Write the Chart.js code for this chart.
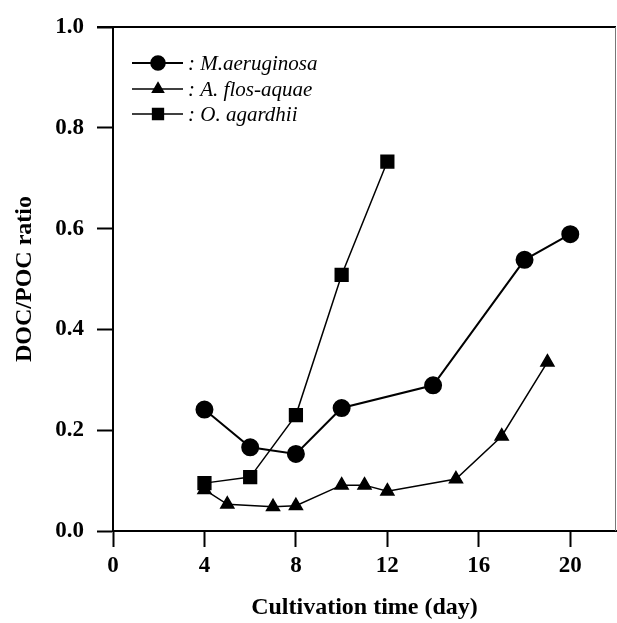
<!DOCTYPE html>
<html>
<head>
<meta charset="utf-8">
<script src="https://cdn.jsdelivr.net/npm/chart.js@4"></script>
<style>
  html, body { margin: 0; padding: 0; background: #fff; }
  #wrap { width: 617px; height: 623px; }
</style>
</head>
<body>
<div id="wrap"><canvas id="ratioChart" width="617" height="623"></canvas></div>
<script>
// data
var seriesNames = ["M.aeruginosa", "A. flos-aquae", "O. agardhii"];
var mDays = [4, 6, 8, 10, 14, 18, 20];
var mRatio = [0.241, 0.166, 0.153, 0.244, 0.289, 0.538, 0.589];
var aDays = [4, 5, 7, 8, 10, 11, 12, 15, 17, 19];
var aRatio = [0.082, 0.053, 0.048, 0.050, 0.091, 0.091, 0.079, 0.103, 0.188, 0.335];
var oDays = [4, 6, 8, 10, 12];
var oRatio = [0.095, 0.107, 0.230, 0.508, 0.733];
var xTicks = [0, 4, 8, 12, 16, 20];
var yTicks = [0.0, 0.2, 0.4, 0.6, 0.8, 1.0];

function toPoints(xs, ys) {
    var pts = [];
    for (var i = 0; i < xs.length; i++) {
        pts.push({ x: xs[i], y: ys[i] });
    }
    return pts;
}

var serif = "'Liberation Serif', 'DejaVu Serif', serif";

// frame on top/right + legend with a line through the marker
var framePlugin = {
    id: "frame",
    afterDraw: function (chart) {
        var ctx = chart.ctx;
        var a = chart.chartArea;
        ctx.save();
        ctx.strokeStyle = "#000";
        ctx.lineWidth = 2;
        ctx.beginPath();
        ctx.moveTo(a.left - 16, a.top);
        ctx.lineTo(a.right, a.top);
        ctx.stroke();
        ctx.strokeStyle = "#777";
        ctx.lineWidth = 1;
        ctx.beginPath();
        ctx.moveTo(a.right - 0.5, a.top);
        ctx.lineTo(a.right - 0.5, a.bottom);
        ctx.stroke();

        var rows = [63, 89, 114];
        chart.data.datasets.forEach(function (ds, i) {
            var y = rows[i];
            ctx.strokeStyle = "#000";
            ctx.lineWidth = ds.borderWidth;
            ctx.beginPath();
            ctx.moveTo(132, y);
            ctx.lineTo(183, y);
            ctx.stroke();
            ctx.fillStyle = "#000";
            Chart.helpers.drawPoint(ctx, {
                pointStyle: ds.pointStyle,
                radius: ds.pointRadius * 0.85,
                borderWidth: 1
            }, 158, y);
            ctx.font = "italic 21px " + serif;
            ctx.textBaseline = "middle";
            ctx.textAlign = "left";
            ctx.fillText(": " + seriesNames[i], 188, y + 1);
        });
        ctx.restore();
    }
};

function noEdgePadding(scale) {
    scale.paddingLeft = 0;
    scale.paddingRight = 0;
    scale.paddingTop = 0;
    scale.paddingBottom = 0;
}

var ctx = document.getElementById("ratioChart").getContext("2d");
var chart = new Chart(ctx, {
    type: "scatter",
    data: {
        datasets: [
            {
                label: seriesNames[0],
                data: toPoints(mDays, mRatio),
                showLine: true,
                borderColor: "#000",
                backgroundColor: "#000",
                borderWidth: 2,
                pointStyle: "circle",
                pointRadius: 8
            },
            {
                label: seriesNames[1],
                data: toPoints(aDays, aRatio),
                showLine: true,
                borderColor: "#000",
                backgroundColor: "#000",
                borderWidth: 1.5,
                pointStyle: "triangle",
                pointRadius: 7.5
            },
            {
                label: seriesNames[2],
                data: toPoints(oDays, oRatio),
                showLine: true,
                borderColor: "#000",
                backgroundColor: "#000",
                borderWidth: 1.5,
                pointStyle: "rect",
                pointRadius: 9
            }
        ]
    },
    options: {
        responsive: false,
        animation: false,
        clip: false,
        layout: {
            autoPadding: false,
            padding: { top: 27, right: 1, left: 0, bottom: 0 }
        },
        plugins: {
            legend: { display: false },
            tooltip: { enabled: false }
        },
        scales: {
            x: {
                type: "linear",
                min: 0,
                max: 22,
                afterFit: function (scale) {
                    scale.height = 92;
                    noEdgePadding(scale);
                },
                afterBuildTicks: function (scale) {
                    scale.ticks = xTicks.map(function (v) { return { value: v }; });
                },
                grid: {
                    drawOnChartArea: false,
                    drawTicks: true,
                    tickLength: 16,
                    tickWidth: 2,
                    color: "#000"
                },
                border: { display: true, color: "#000", width: 2 },
                ticks: {
                    color: "#000",
                    padding: 5,
                    font: { family: serif, size: 23, weight: "bold" }
                },
                title: {
                    display: true,
                    text: "Cultivation time (day)",
                    color: "#000",
                    padding: { top: 0, bottom: 1 },
                    font: { family: serif, size: 24, weight: "bold" }
                }
            },
            y: {
                type: "linear",
                min: 0,
                max: 1.0,
                afterFit: function (scale) {
                    scale.width = 113;
                    noEdgePadding(scale);
                },
                afterBuildTicks: function (scale) {
                    scale.ticks = yTicks.map(function (v) { return { value: v }; });
                },
                grid: {
                    drawOnChartArea: false,
                    drawTicks: true,
                    tickLength: 16,
                    tickWidth: 2,
                    color: "#000"
                },
                border: { display: true, color: "#000", width: 2 },
                ticks: {
                    color: "#000",
                    padding: 13,
                    font: { family: serif, size: 23, weight: "bold" },
                    callback: function (v) { return Number(v).toFixed(1); }
                },
                title: {
                    display: true,
                    text: "DOC/POC ratio",
                    color: "#000",
                    padding: { top: 10, bottom: 0 },
                    font: { family: serif, size: 24, weight: "bold" }
                }
            }
        }
    },
    plugins: [framePlugin]
});
</script>
</body>
</html>
